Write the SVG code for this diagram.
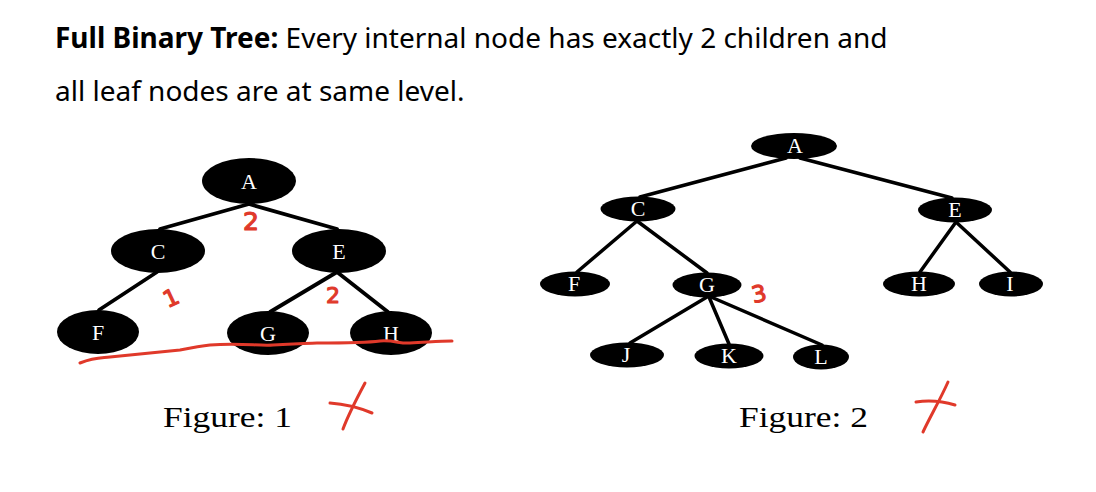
<svg xmlns="http://www.w3.org/2000/svg" width="1096" height="492" viewBox="0 0 1096 492">
<style>
.hdr{font-family:"Noto Sans","Open Sans",sans-serif;font-size:28px;fill:#000}
.nd{fill:#000}
.lb1{font-family:"Liberation Serif","Times New Roman",serif;font-size:22px;fill:#fff;text-anchor:middle}
.lb2{font-family:"Liberation Serif","Times New Roman",serif;font-size:22px;fill:#fff;text-anchor:middle}
.e1{stroke:#000;stroke-width:3.8;stroke-linecap:round;fill:none}
.e2{stroke:#000;stroke-width:3.5;stroke-linecap:round;fill:none}
.red{stroke:#e0392a;stroke-width:3;stroke-linecap:round;stroke-linejoin:round;fill:none}
.rt{font-family:"DejaVu Sans",sans-serif;fill:#e0392a;stroke:#e0392a;stroke-width:1.2;stroke-linejoin:round;text-anchor:middle}
.cap{font-family:"Liberation Serif","Times New Roman",serif;font-size:29px;fill:#000}
</style>
<rect width="1096" height="492" fill="#fff"/>
<text class="hdr" x="55" y="48"><tspan font-weight="bold">Full Binary Tree:</tspan> Every internal node has exactly 2 children and</text>
<text class="hdr" x="55" y="101">all leaf nodes are at same level.</text>

<g id="connectors">
<line class="e1" x1="249" y1="204" x2="160" y2="229"/>
<line class="e1" x1="249" y1="204" x2="337" y2="229"/>
<line class="e1" x1="157" y1="272" x2="99" y2="310"/>
<line class="e1" x1="337" y1="272" x2="270" y2="312"/>
<line class="e1" x1="337" y1="272" x2="388" y2="312"/>
<line class="e2" x1="786" y1="158" x2="640" y2="197"/>
<line class="e2" x1="800" y1="158" x2="952" y2="198"/>
<line class="e2" x1="637" y1="221" x2="577" y2="272"/>
<line class="e2" x1="637" y1="221" x2="707" y2="273"/>
<line class="e2" x1="956" y1="222" x2="920" y2="272"/>
<line class="e2" x1="956" y1="222" x2="1010" y2="272"/>
<line class="e2" x1="707" y1="297" x2="630" y2="343"/>
<line class="e2" x1="709" y1="297" x2="729" y2="344"/>
<line class="e2" x1="711" y1="297" x2="822" y2="345"/>
</g>

<g id="f1-A"><ellipse class="nd" cx="249" cy="181" rx="47" ry="23"/><text class="lb1" x="249" y="189">A</text></g>
<g id="f1-C"><ellipse class="nd" cx="158" cy="251" rx="47" ry="22"/><text class="lb1" x="158" y="259">C</text></g>
<g id="f1-E"><ellipse class="nd" cx="339" cy="251" rx="47" ry="22"/><text class="lb1" x="339" y="259">E</text></g>
<g id="f1-F"><ellipse class="nd" cx="98" cy="332" rx="41" ry="22"/><text class="lb1" x="98" y="340">F</text></g>
<g id="f1-G"><ellipse class="nd" cx="268" cy="333" rx="41" ry="22"/><text class="lb1" x="268" y="341">G</text></g>
<g id="f1-H"><ellipse class="nd" cx="391" cy="333" rx="41" ry="22"/><text class="lb1" x="391" y="341">H</text></g>

<g id="f2-A"><ellipse class="nd" cx="794" cy="146" rx="43" ry="13"/><text class="lb2" x="795" y="153">A</text></g>
<g id="f2-C"><ellipse class="nd" cx="638" cy="209" rx="37.5" ry="12.5"/><text class="lb2" x="638" y="216">C</text></g>
<g id="f2-E"><ellipse class="nd" cx="955" cy="210" rx="37" ry="12.5"/><text class="lb2" x="955" y="217">E</text></g>
<g id="f2-F"><ellipse class="nd" cx="575" cy="284" rx="35" ry="12.5"/><text class="lb2" x="574" y="291">F</text></g>
<g id="f2-G"><ellipse class="nd" cx="707" cy="285" rx="34.5" ry="12.5"/><text class="lb2" x="707" y="292">G</text></g>
<g id="f2-H"><ellipse class="nd" cx="919" cy="284" rx="36" ry="12.5"/><text class="lb2" x="919" y="291">H</text></g>
<g id="f2-I"><ellipse class="nd" cx="1011" cy="284" rx="32" ry="12.5"/><text class="lb2" x="1010" y="291">I</text></g>
<g id="f2-J"><ellipse class="nd" cx="627" cy="355" rx="37" ry="12.5"/><text class="lb2" x="626" y="362">J</text></g>
<g id="f2-K"><ellipse class="nd" cx="729" cy="356" rx="34.5" ry="12.5"/><text class="lb2" x="729" y="363">K</text></g>
<g id="f2-L"><ellipse class="nd" cx="821" cy="357" rx="28" ry="12.5"/><text class="lb2" x="821" y="364">L</text></g>

<g id="annotations">
<text class="rt" x="251" y="230" font-size="25">2</text>
<text class="rt" x="171" y="306" font-size="23" transform="rotate(-25 171 298)">1</text>
<text class="rt" x="333" y="303" font-size="22">2</text>
<text class="rt" x="759" y="302" font-size="23" transform="rotate(-12 759 294)">3</text>
<path class="red" d="M80 363 C95 357 100 358 110 357 C140 354 160 352 180 350 C195 347 200 346 210 345 C240 343 260 346 273 345 C300 344 310 343 317 343 C345 343 365 343 380 341 C395 340 400 344 410 343 C430 342 440 341 452 341"/>
<path class="red" d="M330 403 C345 404 360 408 372 413"/>
<path class="red" d="M365 383 C357 398 349 413 343 429"/>
<path class="red" d="M916 402 C930 400 945 402 955 405"/>
<path class="red" d="M948 382 C940 400 930 417 923 432"/>
</g>

<text class="cap" x="163" y="427" textLength="129" lengthAdjust="spacingAndGlyphs">Figure: 1</text>
<text class="cap" x="739" y="427" textLength="129" lengthAdjust="spacingAndGlyphs">Figure: 2</text>
</svg>
